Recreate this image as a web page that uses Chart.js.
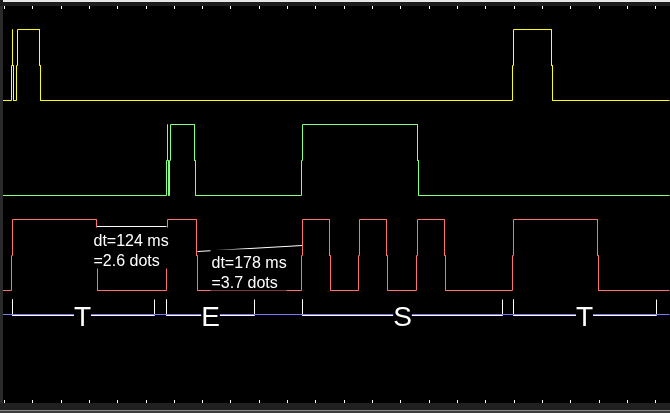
<!DOCTYPE html>
<html>
<head>
<meta charset="utf-8">
<script src="https://cdn.jsdelivr.net/npm/chart.js@4.4.0/dist/chart.umd.min.js"></script>
<style>
  html, body { margin: 0; padding: 0; background: #000; }
  canvas { display: block; }
</style>
</head>
<body>
<canvas id="scope" width="670" height="413"></canvas>
<script>
// time axis in screen samples, levels in screen rows (top = 0)
const yellowEdges = [11, 12, 16, 39, 512, 551];
const greenEdges = [166, 167, 169, 194, 301, 417];
const redEdges = [11, 96, 166, 196, 301, 329, 358, 386, 416, 444, 512, 597];
const yellowLevels = [100, 29];
const greenLevels = [195, 124];
const redLevels = [290, 219];
const blueLevel = 314;

// morse-like letter brackets
const letters = ["T", "E", "S", "T"];
const bracketStart = [12, 166, 302, 513];
const bracketEnd = [154, 254, 502, 656];
const letterPos = [82, 210, 402, 584];
const bracketTop = 299;
const bracketBase = 315;

// dt measurements
const dtFrom = [96, 197];
const dtTo = [166, 302];
const dtFromY = [226, 251];
const dtToY = [226, 245];
const dtText = [["dt=124 ms", "=2.6 dots"], ["dt=178 ms", "=3.7 dots"]];
const dtTextX = [93, 211];
const dtTextY = [245, 267];

// grid dots along the time axis
const dotStart = 3.4;
const dotStep = 28.32;
const dotCount = 24;

function trace(edges, levels) {
    const low = levels[0], high = levels[1];
    const mid = Math.round((low + high) / 2);
    const pts = [{ x: 0, y: low }];
    let up = false;
    edges.forEach(function (e) {
        const a = up ? high : low;
        const b = up ? low : high;
        pts.push({ x: e, y: a }, { x: e, y: mid }, { x: e + 1, y: mid }, { x: e + 1, y: b });
        up = !up;
    });
    pts.push({ x: 669, y: up ? high : low });
    return pts;
}

function brackets() {
    const pts = [];
    for (let i = 0; i < letters.length; i++) {
        pts.push({ x: bracketStart[i], y: bracketTop }, { x: bracketStart[i], y: bracketBase },
                 { x: bracketEnd[i], y: bracketBase }, { x: bracketEnd[i], y: bracketTop },
                 { x: bracketEnd[i], y: null });
    }
    return pts;
}

function dtLines() {
    const pts = [];
    for (let i = 0; i < dtFrom.length; i++) {
        pts.push({ x: dtFrom[i], y: dtFromY[i] }, { x: dtTo[i], y: dtToY[i] }, { x: dtTo[i], y: null });
    }
    return pts;
}

function line(data, color) {
    return {
        data: data,
        borderColor: color,
        borderWidth: 1,
        pointRadius: 0,
        tension: 0,
        fill: false,
        spanGaps: false
    };
}

const scopeFrame = {
    id: 'scopeFrame',
    beforeDatasetsDraw(chart) {
        const ctx = chart.ctx;
        ctx.save();
        ctx.fillStyle = '#000';
        ctx.fillRect(0, 0, chart.width, chart.height);
        ctx.restore();
    },
    afterDatasetsDraw(chart) {
        const ctx = chart.ctx;
        const xs = chart.scales.x, ys = chart.scales.y;
        ctx.save();

        // dt labels on black boxes
        ctx.font = "16px 'Liberation Sans', Arial, sans-serif";
        ctx.textBaseline = 'alphabetic';
        for (let i = 0; i < dtText.length; i++) {
            const x = xs.getPixelForValue(dtTextX[i]);
            const y = ys.getPixelForValue(dtTextY[i]);
            const w = Math.max(ctx.measureText(dtText[i][0]).width, ctx.measureText(dtText[i][1]).width);
            ctx.fillStyle = '#000';
            ctx.fillRect(x - 1, y - 18, w + 1, 41);
            ctx.fillStyle = '#fff';
            ctx.fillText(dtText[i][0], x, y);
            ctx.fillText(dtText[i][1], x, y + 20);
        }

        // letters
        ctx.font = "28px 'Liberation Sans', Arial, sans-serif";
        ctx.textAlign = 'center';
        for (let i = 0; i < letters.length; i++) {
            const x = xs.getPixelForValue(letterPos[i]);
            const y = ys.getPixelForValue(bracketBase) + 10;
            const w = ctx.measureText(letters[i]).width;
            ctx.fillStyle = '#000';
            ctx.fillRect(x - w / 2, y - 21, w, 22);
            ctx.fillStyle = '#fff';
            ctx.fillText(letters[i], x, y);
        }

        // screen border
        ctx.fillStyle = '#2a2a2a';
        ctx.fillRect(0, 0, 3, chart.height);
        ctx.fillStyle = '#1c1c1c';
        ctx.fillRect(0, 0, chart.width, 6);
        ctx.fillStyle = '#e6e6e6';
        ctx.fillRect(3, 0, chart.width - 3, 2);
        ctx.fillStyle = '#202020';
        ctx.fillRect(0, 403, chart.width, 7);
        ctx.fillStyle = '#8a8a8a';
        ctx.fillRect(0, 410, chart.width, 1);
        ctx.fillStyle = '#3c3c3c';
        ctx.fillRect(0, 411, chart.width, 2);

        // dot ticks top and bottom
        ctx.fillStyle = '#fff';
        for (let k = 0; k < dotCount; k++) {
            const px = Math.round(xs.getPixelForValue(dotStart + dotStep * k));
            ctx.fillRect(px, 6, 1, 3);
            ctx.fillRect(px, 400, 1, 3);
        }
        ctx.restore();
    }
};

new Chart(document.getElementById('scope'), {
    type: 'line',
    data: {
        datasets: [
            line(trace(yellowEdges, yellowLevels), '#ffff10'),
            line(trace(greenEdges, greenLevels), '#80ff80'),
            line(trace(redEdges, redLevels), '#ff7070'),
            line([{ x: 0, y: blueLevel }, { x: 669, y: blueLevel }], '#7878ff'),
            line(brackets(), '#ffffff'),
            line(dtLines(), '#ffffff')
        ]
    },
    options: {
        responsive: false,
        animation: false,
        parsing: true,
        layout: { padding: 0 },
        plugins: { legend: { display: false }, tooltip: { enabled: false } },
        scales: {
            x: { type: 'linear', min: -0.5, max: 669.5, display: false },
            y: { type: 'linear', min: -0.5, max: 412.5, reverse: true, display: false }
        }
    },
    plugins: [scopeFrame]
});
</script>
</body>
</html>
